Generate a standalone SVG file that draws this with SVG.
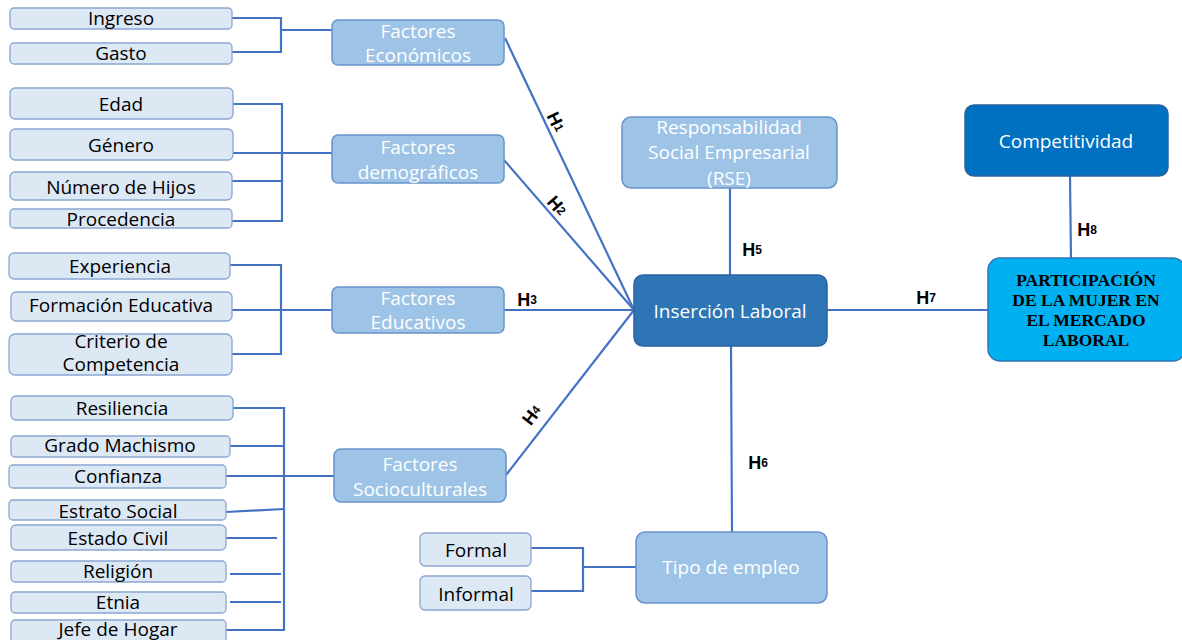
<svg xmlns="http://www.w3.org/2000/svg" width="1182" height="640" viewBox="0 0 1182 640">
<style>
.leaf{fill:#dde8f5;stroke:#8aa6d2;stroke-width:1.3}
.fac{fill:#9dc3e6;stroke:#6a93c9;stroke-width:1.5}
.lt{font-family:"Open Sans","Liberation Sans",sans-serif;font-size:19px;fill:#000;text-anchor:middle}
.wt{font-family:"Open Sans","Liberation Sans",sans-serif;font-size:19px;fill:#fff;text-anchor:middle}
.c{stroke:#4472c4;stroke-width:2.2;fill:none}
.h{font-family:"Liberation Sans",Arial,sans-serif;font-weight:bold;font-size:18px;fill:#000;text-anchor:middle;dominant-baseline:central}
.h tspan{font-size:12px}
</style>
<rect width="1182" height="640" fill="#fff"/>
<g id="connectors">
<polyline class="c" points="232,18 281,18 281,52 232,52"/>
<line class="c" x1="281" y1="30" x2="332" y2="30" stroke-width="3"/>
<polyline class="c" points="233,104 282,104 282,221 232,221"/>
<line class="c" x1="233" y1="153" x2="332" y2="153"/>
<line class="c" x1="232" y1="181" x2="283" y2="181"/>
<polyline class="c" points="230,265 281,265 281,354 232,354"/>
<line class="c" x1="232" y1="310" x2="332" y2="310"/>
<polyline class="c" points="233,408 284,408 284,630 226,630"/>
<line class="c" x1="230" y1="446" x2="284" y2="446"/>
<line class="c" x1="226" y1="476" x2="334" y2="476"/>
<line class="c" x1="226" y1="512" x2="284" y2="509"/>
<line class="c" x1="226" y1="538" x2="277" y2="538"/>
<line class="c" x1="230" y1="574" x2="281" y2="574"/>
<line class="c" x1="230" y1="602" x2="281" y2="602"/>
<polyline class="c" points="531,548 583,548 583,591 531,591"/>
<line class="c" x1="583" y1="567" x2="636" y2="567"/>
<line class="c" x1="505" y1="38" x2="634" y2="310"/>
<line class="c" x1="504" y1="160" x2="634" y2="310"/>
<line class="c" x1="504" y1="310" x2="634" y2="310"/>
<line class="c" x1="506" y1="475" x2="634" y2="310"/>
<line class="c" x1="730" y1="188" x2="730" y2="275"/>
<line class="c" x1="731" y1="346" x2="732" y2="532"/>
<line class="c" x1="827" y1="310" x2="988" y2="310"/>
<line class="c" x1="1070" y1="176" x2="1071" y2="258"/>
<text class="h" transform="translate(556,122) rotate(64)">H<tspan>1</tspan></text>
<text class="h" transform="translate(557,206) rotate(49)">H<tspan>2</tspan></text>
<text class="h" x="527" y="300">H<tspan>3</tspan></text>
<text class="h" transform="translate(532,415) rotate(-52)">H<tspan>4</tspan></text>
<text class="h" x="752" y="250">H<tspan>5</tspan></text>
<text class="h" x="758" y="463">H<tspan>6</tspan></text>
<text class="h" x="926" y="298">H<tspan>7</tspan></text>
<text class="h" x="1087" y="230">H<tspan>8</tspan></text>
</g>
<g id="ingreso"><rect class="leaf" x="10" y="8" width="222" height="21" rx="4"/><text class="lt" x="121" y="25">Ingreso</text></g>
<g id="gasto"><rect class="leaf" x="10" y="43" width="222" height="21" rx="4"/><text class="lt" x="121" y="60">Gasto</text></g>
<g id="edad"><rect class="leaf" x="10" y="88" width="223" height="31" rx="5"/><text class="lt" x="121" y="111">Edad</text></g>
<g id="genero"><rect class="leaf" x="10" y="129" width="223" height="31" rx="5"/><text class="lt" x="121" y="152">Género</text></g>
<g id="hijos"><rect class="leaf" x="10" y="172" width="222" height="28" rx="5"/><text class="lt" x="121" y="194">Número de Hijos</text></g>
<g id="procedencia"><rect class="leaf" x="10" y="209" width="222" height="19" rx="4"/><text class="lt" x="121" y="226">Procedencia</text></g>
<g id="experiencia"><rect class="leaf" x="9" y="253" width="221" height="26" rx="5"/><text class="lt" x="120" y="273">Experiencia</text></g>
<g id="formacion"><rect class="leaf" x="11" y="292" width="221" height="29" rx="5"/><text class="lt" x="121" y="312" font-size="17">Formación Educativa</text></g>
<g id="criterio"><rect class="leaf" x="9" y="334" width="223" height="41" rx="6"/><text class="lt" x="121" y="348" font-size="16">Criterio de</text><text class="lt" x="121" y="371" font-size="16">Competencia</text></g>
<g id="resiliencia"><rect class="leaf" x="11" y="396" width="222" height="24" rx="5"/><text class="lt" x="122" y="415">Resiliencia</text></g>
<g id="machismo"><rect class="leaf" x="11" y="436" width="219" height="21" rx="4"/><text class="lt" x="120" y="452" font-size="17">Grado Machismo</text></g>
<g id="confianza"><rect class="leaf" x="9" y="465" width="217" height="23" rx="4"/><text class="lt" x="118" y="483">Confianza</text></g>
<g id="estrato"><rect class="leaf" x="9" y="500" width="217" height="20" rx="4"/><text class="lt" x="118" y="518">Estrato Social</text></g>
<g id="civil"><rect class="leaf" x="11" y="525" width="215" height="25" rx="5"/><text class="lt" x="118" y="545">Estado Civil</text></g>
<g id="religion"><rect class="leaf" x="11" y="561" width="215" height="21" rx="4"/><text class="lt" x="118" y="578">Religión</text></g>
<g id="etnia"><rect class="leaf" x="11" y="592" width="215" height="21" rx="4"/><text class="lt" x="118" y="609">Etnia</text></g>
<g id="jefe"><rect class="leaf" x="11" y="620" width="215" height="24" rx="4"/><text class="lt" x="118" y="636">Jefe de Hogar</text></g>
<g id="economicos"><rect class="fac" x="332" y="20" width="172" height="45" rx="6"/><text class="wt" x="418" y="38">Factores</text><text class="wt" x="418" y="62">Económicos</text></g>
<g id="demograficos"><rect class="fac" x="332" y="135" width="172" height="48" rx="6"/><text class="wt" x="418" y="154">Factores</text><text class="wt" x="418" y="179">demográficos</text></g>
<g id="educativos"><rect class="fac" x="332" y="287" width="172" height="46" rx="6"/><text class="wt" x="418" y="305">Factores</text><text class="wt" x="418" y="329">Educativos</text></g>
<g id="socioculturales"><rect class="fac" x="334" y="449" width="172" height="53" rx="7"/><text class="wt" x="420" y="471">Factores</text><text class="wt" x="420" y="496">Socioculturales</text></g>
<g id="formal"><rect class="leaf" x="420" y="533" width="111" height="33" rx="5"/><text class="lt" x="476" y="557">Formal</text></g>
<g id="informal"><rect class="leaf" x="420" y="576" width="111" height="34" rx="5"/><text class="lt" x="476" y="601">Informal</text></g>
<g id="tipo"><rect class="fac" x="636" y="532" width="191" height="71" rx="9"/><text class="wt" x="731" y="574">Tipo de empleo</text></g>
<g id="rse"><rect class="fac" x="622" y="117" width="215" height="71" rx="9"/><text class="wt" x="729" y="134">Responsabilidad</text><text class="wt" x="729" y="159">Social Empresarial</text><text class="wt" x="729" y="185">(RSE)</text></g>
<g id="insercion"><rect x="634" y="275" width="193" height="71" rx="9" fill="#2e75b6" stroke="#2a62a0" stroke-width="1.5"/><text class="wt" x="730" y="318">Inserción Laboral</text></g>
<g id="competitividad"><rect x="965" y="105" width="203" height="71" rx="9" fill="#0070c0" stroke="#2a62a0" stroke-width="1.5"/><text class="wt" x="1066" y="148">Competitividad</text></g>
<g id="participacion"><rect x="988" y="258" width="197" height="103" rx="12" fill="#00b0f0" stroke="#2e75b6" stroke-width="1.5"/>
<g font-family="'Liberation Serif','Times New Roman',serif" font-weight="bold" font-size="17.5" fill="#000" text-anchor="middle">
<text x="1086" y="286">PARTICIPACIÓN</text><text x="1086" y="306">DE LA MUJER EN</text><text x="1086" y="326">EL MERCADO</text><text x="1086" y="346">LABORAL</text></g></g>
</svg>
